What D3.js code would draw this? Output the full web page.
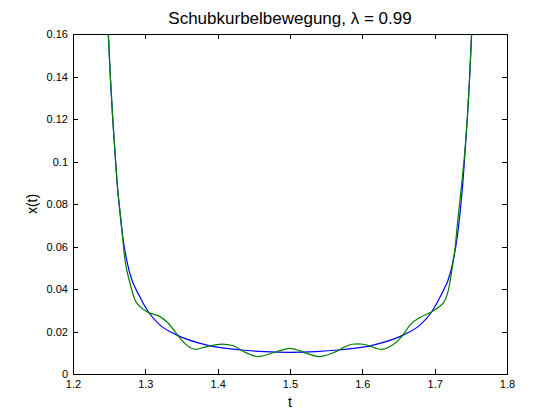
<!DOCTYPE html>
<html>
<head>
<meta charset="utf-8">
<script src="https://cdn.jsdelivr.net/npm/d3@7"></script>
<style>
  html, body { margin: 0; padding: 0; background: #fff; }
  svg { display: block; }
  text { font-family: "Liberation Sans", Arial, Helvetica, sans-serif; fill: #000; }
</style>
</head>
<body>
<svg id="chart" width="560" height="420"></svg>
<script>
// ---- data ----
const exactT = [1.2475, 1.2489, 1.2516, 1.2549, 1.2581, 1.2610, 1.2640, 1.2690, 1.2780, 1.2920,
                1.3040, 1.3200, 1.3430, 1.3850, 1.4300, 1.4650, 1.5000, 1.5350, 1.5700, 1.6150,
                1.6570, 1.6800, 1.6960, 1.7080, 1.7220, 1.7310, 1.7360, 1.7390, 1.7419, 1.7451,
                1.7484, 1.7511, 1.7525];
const exactX = [0.172, 0.160, 0.140, 0.120, 0.104, 0.090, 0.079, 0.064, 0.048, 0.0366,
                0.0293, 0.0231, 0.0184, 0.0136, 0.0114, 0.0105, 0.0102, 0.0105, 0.0114, 0.0136,
                0.0184, 0.0231, 0.0293, 0.0366, 0.048, 0.064, 0.079, 0.090, 0.104, 0.120,
                0.140, 0.160, 0.172];

const approxT = [1.2470, 1.2487, 1.2516, 1.2550, 1.2585, 1.2620, 1.2655, 1.2719, 1.2788, 1.2858,
                 1.2927, 1.3040, 1.3203, 1.3318, 1.3457, 1.3573, 1.3688, 1.3850, 1.4057, 1.4217,
                 1.4355, 1.4563, 1.4770, 1.5001, 1.5232, 1.5407, 1.5600, 1.5855, 1.5940, 1.6015,
                 1.6270, 1.6384, 1.6546, 1.6661, 1.6800, 1.6938, 1.7053, 1.7145, 1.7200, 1.7246,
                 1.7284, 1.7320, 1.7350, 1.7375, 1.7415, 1.7450, 1.7484, 1.7510, 1.7527];
const approxX = [0.172, 0.160, 0.140, 0.120, 0.102, 0.086, 0.075, 0.0536, 0.0427, 0.0348,
                 0.0317, 0.0290, 0.0270, 0.0239, 0.0178, 0.0136, 0.0116, 0.0129, 0.0141, 0.0133,
                 0.0106, 0.0082, 0.0100, 0.0121, 0.0097, 0.0082, 0.0100, 0.0140, 0.0142, 0.0140,
                 0.0116, 0.0129, 0.0176, 0.0231, 0.0267, 0.0289, 0.0314, 0.0348, 0.0411, 0.0505,
                 0.0599, 0.0725, 0.0819, 0.090, 0.104, 0.120, 0.140, 0.160, 0.172];

const xTicks = [1.2, 1.3, 1.4, 1.5, 1.6, 1.7, 1.8];
const xTickLabels = ["1.2", "1.3", "1.4", "1.5", "1.6", "1.7", "1.8"];
const yTicks = [0, 0.02, 0.04, 0.06, 0.08, 0.1, 0.12, 0.14, 0.16];
const yTickLabels = ["0", "0.02", "0.04", "0.06", "0.08", "0.1", "0.12", "0.14", "0.16"];

const titleText = "Schubkurbelbewegung, \u03bb = 0.99";
const xLabel = "t";
const yLabel = "x(t)";

(function () {
  // ---- layout ----
  const pL = 73, pR = 507, pT = 34, pB = 374;
  const svg = d3.select("#chart");

  const x = d3.scaleLinear().domain([1.2, 1.8]).range([pL, pR]);
  const y = d3.scaleLinear().domain([0, 0.16]).range([pB, pT]);

  svg.append("rect").attr("width", 560).attr("height", 420).attr("fill", "#fff");

  svg.append("defs").append("clipPath").attr("id", "clip")
    .append("rect").attr("x", pL).attr("y", pT).attr("width", pR - pL).attr("height", pB - pT);

  // curves
  const line = d3.line().x(d => x(d[0])).y(d => y(d[1])).curve(d3.curveMonotoneX);
  const plot = svg.append("g").attr("clip-path", "url(#clip)");
  plot.append("path")
    .attr("d", line(exactT.map((t, i) => [t, exactX[i]])))
    .attr("fill", "none").attr("stroke", "#0000ff").attr("stroke-width", 1.2);
  plot.append("path")
    .attr("d", line(approxT.map((t, i) => [t, approxX[i]])))
    .attr("fill", "none").attr("stroke", "#008000").attr("stroke-width", 1.2);

  // axes (MATLAB style: ticks inward, on all sides)
  const tickLen = 5;
  const axB = svg.append("g").attr("transform", `translate(0,${pB})`)
    .call(d3.axisBottom(x).tickValues(xTicks).tickSizeInner(-tickLen).tickSizeOuter(0)
          .tickFormat((d, i) => xTickLabels[i]).tickPadding(6));
  const axT = svg.append("g").attr("transform", `translate(0,${pT})`)
    .call(d3.axisTop(x).tickValues(xTicks).tickSizeInner(-tickLen).tickSizeOuter(0).tickFormat(""));
  const axL = svg.append("g").attr("transform", `translate(${pL},0)`)
    .call(d3.axisLeft(y).tickValues(yTicks).tickSizeInner(-tickLen).tickSizeOuter(0)
          .tickFormat((d, i) => yTickLabels[i]).tickPadding(5));
  const axR = svg.append("g").attr("transform", `translate(${pR},0)`)
    .call(d3.axisRight(y).tickValues(yTicks).tickSizeInner(-tickLen).tickSizeOuter(0).tickFormat(""));

  [axB, axT, axL, axR].forEach(g => {
    g.selectAll("path.domain").attr("stroke", "#000").attr("shape-rendering", "crispEdges");
    g.selectAll(".tick line").attr("stroke", "#000").attr("shape-rendering", "crispEdges");
    g.selectAll(".tick text").style("font-size", "11px")
      .style("font-family", "'Liberation Sans', Arial, sans-serif").attr("fill", "#000");
  });
  axB.selectAll(".tick text").attr("dy", "0.75em");

  // title and labels
  svg.append("text").attr("x", (pL + pR) / 2).attr("y", 24)
    .attr("text-anchor", "middle").style("font-size", "17px").text(titleText);
  svg.append("text").attr("x", (pL + pR) / 2).attr("y", 407)
    .attr("text-anchor", "middle").style("font-size", "14px").text(xLabel);
  svg.append("text").attr("transform", `translate(37,${(pT + pB) / 2}) rotate(-90)`)
    .attr("text-anchor", "middle").style("font-size", "14px").text(yLabel);
})();
</script>
</body>
</html>
